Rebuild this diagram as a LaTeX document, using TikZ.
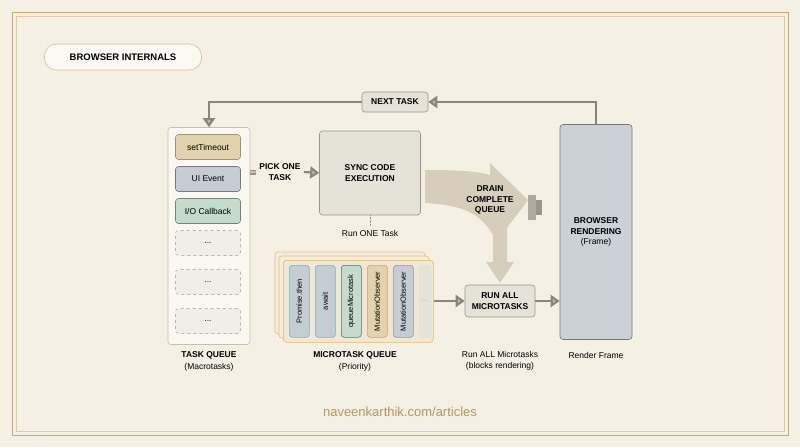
\documentclass[tikz,border=0pt]{standalone}
\usepackage{fontspec}
\setmainfont{Liberation Sans}
\usetikzlibrary{arrows.meta,calc}
\definecolor{bg}{HTML}{F4F0E4}
\definecolor{gold}{HTML}{C9A86A}
\definecolor{edge}{HTML}{9A958A}
\definecolor{panel}{HTML}{FAF8F1}
\definecolor{tan}{HTML}{E2D2AD}
\definecolor{slate}{HTML}{C5CCD3}
\definecolor{mint}{HTML}{C3DCCB}
\definecolor{grey}{HTML}{E5E2D8}
\definecolor{arr}{HTML}{C9BFA8}
\definecolor{teal}{HTML}{6FB8B6}
\definecolor{orng}{HTML}{E0A04A}
\begin{document}
\begin{tikzpicture}[x=1pt,y=-1pt,font=\fontsize{8.5}{10}\selectfont,
 box/.style={draw=edge,rounded corners=3pt,line width=0.6pt},
 item/.style={box,minimum width=65pt,minimum height=25pt},
 dots/.style={item,dashed,fill=grey!60,draw=edge!70},
 lab/.style={align=center,font=\fontsize{8.5}{10.5}\selectfont\bfseries},
 sub/.style={align=center,font=\fontsize{8.5}{10.5}\selectfont},
 conn/.style={draw=edge!90!black,line width=2.2pt,-{Triangle[length=9pt,width=12pt,fill=arr]}},
 mcol/.style={box,minimum width=20pt,minimum height=72pt,anchor=north west}]
\fill[bg] (0,0) rectangle (800,447);
\draw[gold,line width=0.8pt] (12,12) rectangle (788,435);
\draw[gold!60,line width=0.4pt] (16,16) rectangle (784,431);
% title
\node[box,draw=gold!70,fill=white!60!bg,rounded corners=12pt,minimum width=157pt,minimum height=26pt,font=\fontsize{9.5}{11}\selectfont\bfseries] (title) at (123,57) {BROWSER INTERNALS};
% task queue
\node[box,fill=panel,draw=edge!60,minimum width=82pt,minimum height=217pt] (tq) at (209,236) {};
\node[item,fill=tan,draw=tan!70!black] (t1) at (208,147) {setTimeout};
\node[item,fill=slate,draw=slate!60!black] (t2) at (208,179) {UI Event};
\node[item,fill=mint,draw=mint!60!black] (t3) at (208,211) {I/O Callback};
\node[dots] (t4) at (208,243) {...};
\node[dots] (t5) at (208,282) {...};
\node[dots] (t6) at (208,321) {...};
\node[lab] (tql) at (209,355) {TASK QUEUE};
\node[sub] (tqs) at (209,367) {(Macrotasks)};
% sync code
\node[box,fill=grey,minimum width=101pt,minimum height=84pt,lab] (sync) at (370,173) {SYNC CODE\\EXECUTION};
\node[sub] (one) at (370,233) {Run ONE Task};
\draw[edge,densely dotted] (sync.south) -- (one.north);
\node[lab] (pick) at (280,172) {PICK ONE\\TASK};
\draw[edge,line width=1.5pt,double=arr,double distance=2pt] (tq.east|-pick) -- (pick.west);
\draw[conn] (pick.east) -- (sync.west);
% rendering
\node[box,fill=slate!90,draw=edge!80!black,minimum width=72pt,minimum height=215pt,lab] (rend) at (596,232) {BROWSER\\RENDERING\\{\normalfont (Frame)}};
\node[sub] (rf) at (596,355) {Render Frame};
% next task
\node[box,fill=grey,minimum width=66pt,minimum height=20pt,lab] (next) at (395,102) {NEXT TASK};
\draw[conn] (rend.north) |- (next.east);
\draw[conn] (next.west) -| (tq.north);
% drain arrow
\fill[arr!70!bg] (425,170) .. controls (465,170) and (480,172) .. (490,175) -- (490,163) -- (528,200) -- (507,228) -- (507,262) -- (514,262) -- (500,283) -- (486,262) -- (493,262) -- (493,235) .. controls (480,212) and (460,205) .. (425,203) -- cycle;
\fill[edge!80] (528,195) rectangle (536,220);
\fill[edge] (536,200) rectangle (542,215);
\node[lab] (drain) at (490,200) {DRAIN\\COMPLETE\\QUEUE};
% microtask queue
\foreach \o in {0,4} \draw[box,fill=tan!40,draw=orng!70] (275+\o,252+\o) rectangle (425+\o,334+\o);
\node[box,fill=tan!50,draw=orng!80,minimum width=150pt,minimum height=82pt,anchor=north west] (mq) at (283,260) {};
\node[mcol,fill=slate,draw=teal] (m1) at (289,265) {};
\node[mcol,fill=slate,draw=teal] (m2) at (315,265) {};
\node[mcol,fill=mint,draw=mint!50!black] (m3) at (341,265) {};
\node[mcol,fill=tan,draw=orng] (m4) at (367,265) {};
\node[mcol,fill=slate,draw=edge] (m5) at (393,265) {};
\node[mcol,fill=grey,draw=grey,minimum width=12pt] (m6) at (419,265) {};
\foreach \n/\t in {m1/Promise.then,m2/await,m3/queueMicrotask,m4/MutationObserver,m5/MutationObserver}
  \node[rotate=90,font=\fontsize{7.5}{8}\selectfont] at (\n.center) {\t};
\node[font=\fontsize{6}{7}\selectfont,text=edge] at (m6.center) {...};
\node[lab] (mql) at (355,355) {MICROTASK QUEUE};
\node[sub] (mqs) at (355,367) {(Priority)};
% run all
\node[box,fill=grey,minimum width=70pt,minimum height=32pt,lab] (run) at (500,301) {RUN ALL\\MICROTASKS};
\draw[conn] (mq.east|-run) -- (run.west);
\draw[conn] (run.east) -- (rend.west|-run);
\node[sub] (ra) at (500,361) {Run ALL Microtasks\\(blocks rendering)};
% url
\node[text=gold!90!black,font=\fontsize{13}{15}\selectfont] (url) at (400,412) {naveenkarthik.com/articles};
\end{tikzpicture}
\end{document}
